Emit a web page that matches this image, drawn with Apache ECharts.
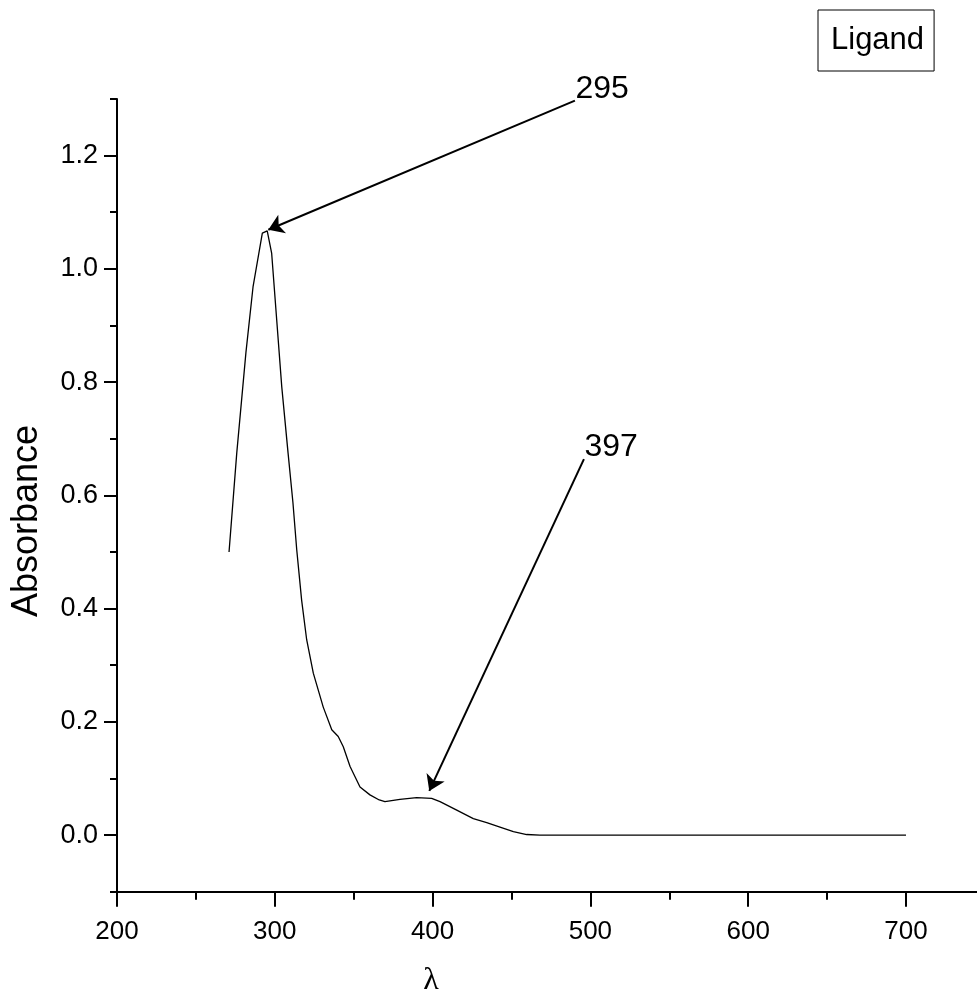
<!DOCTYPE html>
<html>
<head>
<meta charset="utf-8">
<script src="https://cdn.jsdelivr.net/npm/echarts@6/dist/echarts.min.js"></script>
<style>
html,body{margin:0;padding:0;background:#fff;}
#chart{width:977px;height:1003px;}
</style>
</head>
<body>
<div id="chart"></div>
<script>
// ---- data ----
const seriesName = 'Ligand';
const wavelength = [271, 275.9, 281.7, 286.2, 292.1, 295.2, 298.0, 301.2, 304.4, 308.4, 311.5, 313.9, 317.0, 320.2, 324.4, 330.7, 336.1, 340.2, 343.4, 347.7, 354.0, 360.3, 366.2, 369.8, 379.3, 389.9, 399.4, 404.7, 415.3, 425.8, 434.3, 442.7, 451.2, 459.6, 468.0, 500, 550, 600, 650, 700];
const absorbance = [0.500, 0.675, 0.852, 0.968, 1.063, 1.067, 1.028, 0.910, 0.792, 0.675, 0.587, 0.504, 0.415, 0.345, 0.286, 0.226, 0.186, 0.174, 0.156, 0.121, 0.085, 0.071, 0.062, 0.059, 0.063, 0.066, 0.065, 0.059, 0.044, 0.029, 0.022, 0.014, 0.006, 0.001, 0.000, 0, 0, 0, 0, 0];
const xMajorTicks = [200, 300, 400, 500, 600, 700];
const xMinorTicks = [250, 350, 450, 550, 650];
const yMajorTicks = [0.0, 0.2, 0.4, 0.6, 0.8, 1.0, 1.2];
const yMinorTicks = [-0.1, 0.1, 0.3, 0.5, 0.7, 0.9, 1.1, 1.3];
const annotLabels = ['295', '397'];
const arrowFrom = [[490.2, 1.297], [495.9, 0.664]];
const arrowTo = [[295.9, 1.069], [397.9, 0.078]];

const FONT = 'Arial, "Liberation Sans", sans-serif';
const chart = echarts.init(document.getElementById('chart'), null, {renderer: 'canvas'});

const xBase = {
  type: 'value', min: 200, max: 745, position: 'bottom',
  splitLine: {show: false}
};
const yBase = {
  type: 'value', min: -0.1, max: 1.3, position: 'left', offset: 0,
  splitLine: {show: false}
};

chart.setOption({
  animation: false,
  backgroundColor: '#fff',
  grid: {left: 117, top: 99, width: 860, height: 792.7, containLabel: false},
  legend: {
    show: true,
    data: [seriesName],
    left: 818, top: 10,
    orient: 'horizontal',
    selectedMode: false,
    borderColor: '#000', borderWidth: 1,
    padding: [15, 10, 15, 7],
    itemWidth: 0, itemHeight: 0,
    textStyle: {fontFamily: FONT, fontSize: 31, color: '#000'}
  },
  xAxis: [
    Object.assign({}, xBase, {
      axisLine: {show: true, onZero: false, lineStyle: {color: '#000', width: 2}},
      axisTick: {show: true, inside: false, length: 15, lineStyle: {color: '#000', width: 2}, customValues: xMajorTicks},
      axisLabel: {show: true, margin: 27, color: '#000', fontFamily: FONT, fontSize: 26, customValues: xMajorTicks}
    }),
    Object.assign({}, xBase, {
      axisLine: {show: false, onZero: false},
      axisTick: {show: true, inside: false, length: 8, lineStyle: {color: '#000', width: 2}, customValues: xMinorTicks},
      axisLabel: {show: false}
    })
  ],
  yAxis: [
    Object.assign({}, yBase, {
      axisLine: {show: true, onZero: false, lineStyle: {color: '#000', width: 2}},
      axisTick: {show: true, inside: false, length: 13, lineStyle: {color: '#000', width: 2}, customValues: yMajorTicks},
      axisLabel: {show: true, margin: 19, color: '#000', fontFamily: FONT, fontSize: 27,
        customValues: yMajorTicks, formatter: v => Number(v).toFixed(1)}
    }),
    Object.assign({}, yBase, {
      axisLine: {show: false, onZero: false},
      axisTick: {show: true, inside: false, length: 7, lineStyle: {color: '#000', width: 2}, customValues: yMinorTicks},
      axisLabel: {show: false}
    })
  ],
  series: [{
    name: seriesName,
    type: 'line',
    xAxisIndex: 0, yAxisIndex: 0,
    clip: false,
    data: wavelength.map((w, i) => [w, absorbance[i]]),
    showSymbol: false, symbol: 'none',
    smooth: false,
    lineStyle: {color: '#000', width: 1.3},
    itemStyle: {color: '#000'},
    markLine: {
      silent: true,
      symbol: ['none', 'arrow'],
      symbolSize: 15,
      label: {show: false},
      lineStyle: {color: '#000', width: 2, type: 'solid'},
      data: arrowFrom.map((p, i) => [{coord: p}, {coord: arrowTo[i]}])
    },
    markPoint: {
      silent: true,
      symbol: 'circle', symbolSize: 1,
      itemStyle: {color: 'rgba(0,0,0,0)'},
      label: {show: true, position: [0, 0], align: 'left', verticalAlign: 'bottom',
        offset: [1, 5], color: '#000', fontFamily: FONT, fontSize: 32,
        formatter: p => p.name},
      data: arrowFrom.map((p, i) => ({name: annotLabels[i], coord: p}))
    }
  }],
  graphic: [
    {type: 'text', x: 27, y: 521, rotation: Math.PI / 2,
      style: {text: 'Absorbance', fontFamily: FONT, fontSize: 36, fill: '#000', align: 'center', verticalAlign: 'middle'}},
    {type: 'text', x: 431, y: 981,
      style: {text: 'λ', fontFamily: '"Liberation Serif", "Times New Roman", serif', fontSize: 32, fill: '#000', align: 'center', verticalAlign: 'middle'}}
  ]
});
</script>
</body>
</html>
